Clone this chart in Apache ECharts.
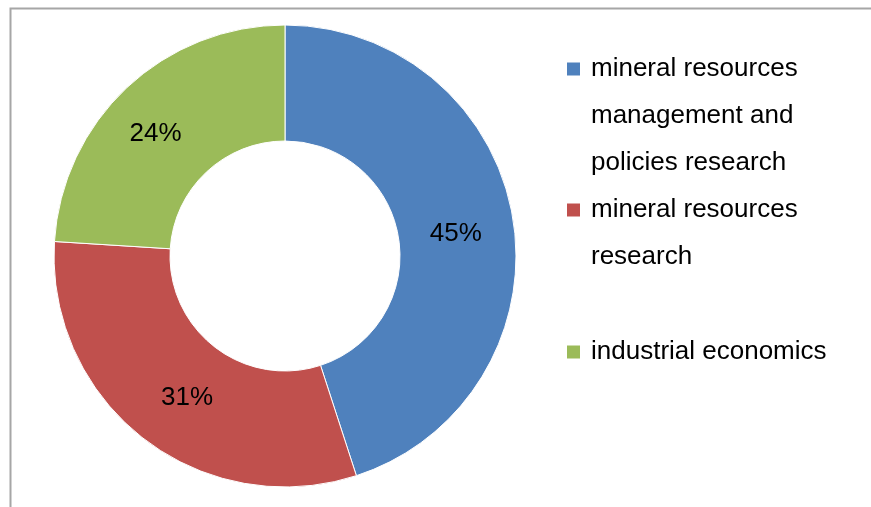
<!DOCTYPE html>
<html>
<head>
<meta charset="utf-8">
<script src="https://cdn.jsdelivr.net/npm/echarts@6/dist/echarts.min.js"></script>
<style>
html,body{margin:0;padding:0;background:#fff;}
#chart{width:871px;height:507px;}
</style>
</head>
<body>
<div id="chart"></div>
<script>
var categories = ['mineral resources management and policies research', 'mineral resources research', 'industrial economics'];
var legendLines = [
  ['mineral resources', 'management and', 'policies research'],
  ['mineral resources', 'research'],
  ['industrial economics']
];
var values = [45, 31, 24];
var colors = ['#4F81BD', '#C0504D', '#9BBB59'];

var FONT = '"Liberation Sans", Arial, sans-serif';
var legendTops = [56, 197, 339];
var labelOffsets = [[-3, 5], [10, 3], [-9, 6]];
var rich = {
  t: {fontSize: 26, fontFamily: FONT, color: '#000', lineHeight: 47, verticalAlign: 'middle'},
  gap: {width: 11, height: 13, lineHeight: 47},
  pad: {width: 24, height: 13, lineHeight: 47}
};
colors.forEach(function (c, i) {
  rich['sq' + i] = {width: 13, height: 13, backgroundColor: c, lineHeight: 47, verticalAlign: 'middle'};
});

function legendFor(i) {
  return {
    orient: 'vertical',
    left: 562,
    top: legendTops[i],
    padding: 0,
    itemGap: 0,
    itemWidth: 0,
    itemHeight: 0,
    icon: 'none',
    selectedMode: false,
    data: [categories[i]],
    formatter: function (name) {
      var lines = legendLines[i];
      return lines.map(function (l, k) {
        if (k === 0) return '{sq' + i + '|}{gap|}{t|' + l + '}';
        return '{pad|}{t|' + l + '}';
      }).join('\n');
    },
    textStyle: {rich: rich}
  };
}

var chart = echarts.init(document.getElementById('chart'), null, {renderer: 'canvas'});
chart.setOption({
  animation: false,
  backgroundColor: '#fff',
  graphic: [{
    type: 'rect', left: 8, top: 6, silent: true,
    shape: {x: 0, y: 0, width: 900, height: 600},
    style: {fill: 'none', stroke: '#A6A6A6', lineWidth: 2}
  }],
  legend: [legendFor(0), legendFor(1), legendFor(2)],
  series: [{
    type: 'pie',
    center: [285, 256],
    radius: [115, 231],
    startAngle: 90,
    clockwise: true,
    silent: true,
    emphasis: {disabled: true},
    itemStyle: {borderColor: '#fff', borderWidth: 1},
    label: {
      show: true,
      position: 'inside',
      formatter: '{c}%',
      fontSize: 26,
      fontFamily: FONT,
      color: '#000'
    },
    labelLine: {show: false},
    data: categories.map(function (n, i) {
      return {name: n, value: values[i], itemStyle: {color: colors[i]}, label: {offset: labelOffsets[i]}};
    })
  }]
});
</script>
</body>
</html>
